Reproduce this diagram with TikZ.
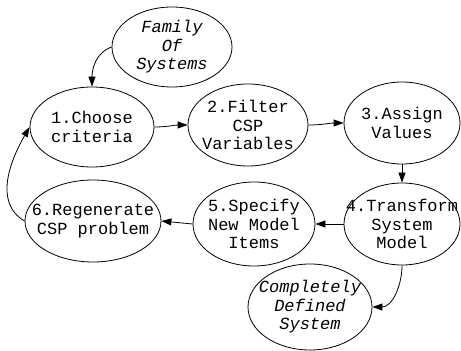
\documentclass[tikz,border=0pt]{standalone}
\usepackage{fontspec}
\newfontfamily\courfont{Liberation Mono}
\usetikzlibrary{shapes.geometric,arrows.meta}

\tikzset{
    stepnode/.style={ellipse, draw, line width=0.8pt, fill=white, inner sep=0pt},
    steptext/.style={align=center, inner sep=0pt, font=\courfont\fontsize{17}{18.5}\selectfont},
    endtext/.style={steptext, font=\courfont\itshape\fontsize{17}{18.5}\selectfont},
    flow/.style={line width=0.8pt, -{Triangle[length=10pt, width=7pt]}}
}

\begin{document}
\begin{tikzpicture}[x=1pt, y=1pt]
    \useasboundingbox (0,0) rectangle (461,351);

    % 1. Place the Ellipses
    \node[stepnode, minimum width=120pt, minimum height=80pt] (family) at (172,304) {};
    \node[stepnode, minimum width=124pt, minimum height=80pt] (choose) at (92,224) {};
    \node[stepnode, minimum width=120pt, minimum height=82pt] (filter) at (248,226) {};
    \node[stepnode, minimum width=116pt, minimum height=82pt] (assign) at (402,228) {};
    \node[stepnode, minimum width=116pt, minimum height=82pt] (transform) at (402,127) {};
    \node[stepnode, minimum width=122pt, minimum height=84pt] (specify) at (254,127) {};
    \node[stepnode, minimum width=136pt, minimum height=82pt] (regen) at (93,130) {};
    \node[stepnode, minimum width=124pt, minimum height=86pt] (defined) at (310,44) {};

    % 2. Write the Texts
    \node[endtext] (family-text) at (family) {Family\\Of\\Systems};
    \node[endtext] (defined-text) at (defined) {Completely\\Defined\\System};
    \foreach \n/\t in {choose/{1.Choose\\criteria},
                       filter/{2.Filter\\CSP\\Variables},
                       assign/{3.Assign\\Values},
                       transform/{4.Transform\\System\\Model},
                       specify/{5.Specify\\New Model\\Items},
                       regen/{6.Regenerate\\CSP problem}}
        \node[steptext] (\n-text) at (\n) {\t};

    % 3. Draw the Arrows
    \draw[flow] (family.west) to[out=200, in=90] (choose.north);
    \draw[flow] (choose.east) to[out=0, in=180] (filter.west);
    \draw[flow] (filter.east) to[out=0, in=180] (assign.west);
    \draw[flow] (assign.south) -- (transform.north);
    \draw[flow] (transform.west) -- (specify.east);
    \draw[flow] (specify.west) -- (regen.east);
    % back to the start
    \draw[flow] (regen.west) to[out=150, in=-120] (choose.west);
    % leaving the loop
    \draw[flow] (transform.south) to[out=-90, in=0] (defined.east);
\end{tikzpicture}
\end{document}
